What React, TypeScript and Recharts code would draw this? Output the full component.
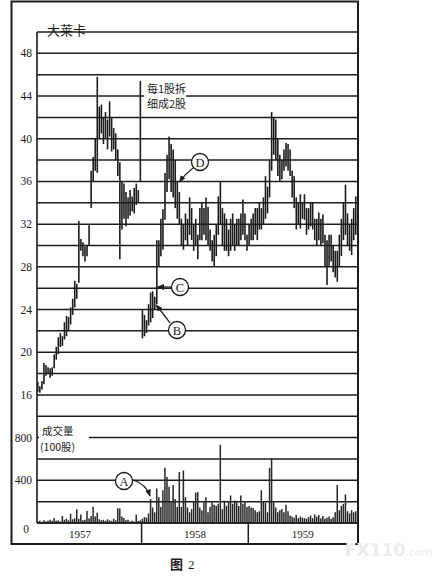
import { Bar, CartesianGrid, ComposedChart, XAxis, YAxis } from 'recharts'

// weekly high / low, 1957-1959 (split 2-for-1 at the start of 1958)
const priceLow = [
  16.3, 16.2, 16.5, 17.0, 17.8, 18.0, 17.6, 17.8, 18.5, 19.3,
  19.8, 20.5, 20.6, 21.2, 21.5, 22.0, 22.6, 23.5, 24.2, 25.0,
  26.5, 29.5, 29.0, 28.5, 29.0, 30.0, 33.5, 36.0, 37.0, 36.8,
  40.0, 40.5, 39.5, 40.0, 39.0, 40.2, 38.8, 39.0, 38.0, 36.5,
  28.7, 31.5, 32.5, 31.8, 32.5, 32.8, 33.2, 33.0, 33.8, 34.0,
  36.0, 21.3, 21.5, 21.8, 22.5, 22.8, 23.2, 24.0, 24.5, 28.0,
  29.0, 29.6, 32.4, 35.0, 36.2, 35.0, 34.5, 33.5, 32.5, 32.0,
  30.0, 29.6, 30.5, 30.0, 31.0, 30.5, 29.5, 30.0, 28.7, 30.5,
  30.5, 31.0, 30.5, 30.0, 29.5, 28.5, 28.0, 29.0, 31.0, 32.0,
  30.0, 29.5, 29.5, 29.0, 29.5, 30.0, 29.5, 30.0, 30.0, 30.5,
  31.0, 30.5, 29.5, 30.0, 30.5, 30.5, 31.0, 30.5, 31.5, 31.5,
  32.0, 32.5, 33.0, 34.5, 37.0, 38.5, 38.0, 36.5, 36.0, 36.2,
  37.0, 37.4, 37.0, 36.5, 34.5, 33.5, 31.5, 32.0, 31.6, 32.5,
  32.4, 31.0, 31.5, 31.8, 31.5, 30.5, 30.0, 30.5, 30.0, 30.2,
  28.0, 26.3, 28.0, 28.5, 27.5, 27.0, 26.6, 28.0, 29.0, 30.5,
  31.0, 30.0, 29.5, 29.1, 30.5, 31.0
]

const priceHigh = [
  17.2, 16.8, 17.3, 19.0, 18.8, 18.6, 18.5, 18.6, 19.8, 20.5,
  21.4, 21.8, 21.5, 22.8, 23.4, 23.3, 24.2, 25.0, 26.7, 26.4,
  32.3, 30.6, 30.3, 29.9, 30.0, 32.0, 37.0, 38.3, 40.0, 45.8,
  43.0, 43.2, 42.0, 42.5, 41.8, 43.5, 42.0, 41.0, 40.5, 39.0,
  37.8, 36.0, 35.8, 35.0, 34.5, 35.2, 34.6, 35.4, 35.8, 35.2,
  45.4, 24.0, 23.5, 23.0, 24.5, 25.6, 25.7, 25.2, 30.5, 30.5,
  32.5, 33.4, 36.8, 38.5, 40.2, 39.5, 39.0, 38.0, 36.0, 35.0,
  32.5, 32.0, 33.0, 32.5, 34.5, 33.5, 32.0, 32.5, 31.0, 33.5,
  34.0, 33.5, 34.5, 33.6, 31.5, 30.5, 31.0, 32.0, 34.6, 36.0,
  33.5, 33.0, 32.5, 31.5, 32.5, 33.0, 32.0, 32.5, 32.5, 33.0,
  34.3, 33.0, 31.0, 32.0, 32.5, 33.0, 33.5, 33.5, 34.0, 33.5,
  34.5, 36.5, 35.5, 38.0, 42.5, 42.0, 41.8, 40.0, 38.5, 38.0,
  39.0, 39.6, 39.5, 39.0, 37.0, 36.5, 34.5, 34.0, 34.8, 34.0,
  34.8, 33.5, 33.5, 34.0, 34.0, 32.5, 32.5, 33.1, 32.5, 32.9,
  31.0, 30.5, 31.0, 31.0, 30.0, 29.5, 29.5, 31.0, 32.5, 34.0,
  35.7, 33.0, 32.0, 32.5, 33.5, 34.6
]

// weekly volume, in 100 shares
const volume = [
  15, 20, 10, 25, 15, 20, 30, 20, 48, 20,
  25, 15, 65, 30, 40, 25, 87, 35, 45, 129,
  40, 80, 25, 30, 113, 45, 65, 152, 60, 97,
  35, 25, 30, 20, 35, 25, 20, 40, 25, 139,
  135, 60, 48, 25, 30, 15, 20, 15, 80, 20,
  25, 40, 55, 50, 90, 226, 145, 100, 323, 242,
  150, 307, 517, 430, 339, 200, 355, 226, 150, 478,
  150, 491, 242, 145, 100, 130, 200, 284, 291, 145,
  120, 194, 242, 100, 150, 194, 170, 160, 180, 733,
  130, 210, 160, 194, 258, 180, 210, 194, 160, 258,
  180, 194, 150, 160, 145, 140, 120, 100, 110, 307,
  200, 190, 100, 517, 607, 194, 145, 100, 120, 130,
  100, 170, 110, 70, 60, 50, 75, 45, 60, 50,
  45, 40, 55, 70, 45, 80, 60, 75, 45, 65,
  40, 50, 60, 40, 55, 100, 355, 120, 160, 180,
  268, 110, 90, 120, 100, 110
]

const years = ['1957', '1958', '1959']
const yearLabelWeeks = [21, 77, 129.5]
const yearBoundaryWeeks = [51, 103]

const priceGridTicks = [4, 6, 8, 10, 12, 14, 16, 18, 20, 22, 24, 26, 28, 30, 32, 34, 36, 38, 40, 42, 44, 46, 48]
const priceLabels = [16, 20, 24, 28, 32, 36, 40, 44, 48]
const volumeLabels = [0, 400, 800]

const PRICE_MIN = 4
const PRICE_MAX = 50
const VOL_MAX = 4600
const VOL_PER_PRICE = VOL_MAX / (PRICE_MAX - PRICE_MIN)

const data = priceLow.map((low, i) => ({
  t: i + 0.5,
  range: [low, priceHigh[i]],
  vol: volume[i]
}))

const ink = '#1c1c1c'
const serif = '"Liberation Serif", "DejaVu Serif", serif'
const cjk = '"Noto Sans CJK SC", "Noto Sans", sans-serif'

function PriceTick({ x, y, payload }: any) {
  const v = payload.value
  let label = ''
  if (priceLabels.includes(v)) label = String(v)
  else {
    const vol = Math.round((v - PRICE_MIN) * VOL_PER_PRICE)
    if (volumeLabels.includes(vol)) label = String(vol)
  }
  if (!label) return <g />
  const zero = label === '0'
  return (
    <text x={x - (zero ? 8 : 5)} y={y + (zero ? 10 : 4)} textAnchor="end" fontSize={11.5} fontFamily={serif} fill={ink}>
      {label}
    </text>
  )
}

function YearTick({ x, y, payload }: any) {
  const v = payload.value
  const k = yearLabelWeeks.indexOf(v)
  if (k >= 0) {
    return (
      <text x={x} y={y + 15} textAnchor="middle" fontSize={11} fontFamily={serif} fill={ink}>
        {years[k]}
      </text>
    )
  }
  return <line x1={x} x2={x} y1={y} y2={y + 21} stroke={ink} strokeWidth={1.5} />
}

function Annotations() {
  return (
    <svg width={435} height={577} style={{ position: 'absolute', left: 0, top: 0, pointerEvents: 'none' }}>
      <defs>
        <marker id="head" viewBox="0 0 10 10" refX="9" refY="5" markerWidth="6" markerHeight="6" orient="auto">
          <path d="M0,1 L10,5 L0,9 z" fill={ink} />
        </marker>
      </defs>
      <rect x={11.5} y={1.5} width={346.5} height={542.5} fill="none" stroke={ink} strokeWidth={2} />

      <text x={47} y={35} fontSize={13} fontFamily={cjk} fill={ink}>大莱卡</text>

      <rect x={144} y={80} width={42} height={31} fill="#fff" />
      <text x={147} y={93} fontSize={11} fontFamily={cjk} fill={ink}>每1股拆</text>
      <text x={147} y={108} fontSize={11} fontFamily={cjk} fill={ink}>细成2股</text>

      <rect x={39} y={422} width={50} height={31} fill="#fff" />
      <text x={42} y={435} fontSize={10.5} fontFamily={cjk} fill={ink}>成交量</text>
      <text x={40} y={451} fontSize={10.5} fontFamily={cjk} fill={ink}>(100股)</text>

      <path d="M193,168 Q185,174 179.5,182" fill="none" stroke={ink} strokeWidth={1.2} markerEnd="url(#head)" />
      <path d="M171.5,287 L157.5,287" fill="none" stroke={ink} strokeWidth={1.2} markerEnd="url(#head)" />
      <path d="M170,323 Q162,312 156,305" fill="none" stroke={ink} strokeWidth={1.2} markerEnd="url(#head)" />
      <path d="M133,480 Q146,484 150,496" fill="none" stroke={ink} strokeWidth={1.2} markerEnd="url(#head)" />

      {[
        { l: 'D', cx: 200, cy: 162 },
        { l: 'C', cx: 180, cy: 287 },
        { l: 'B', cx: 177, cy: 330 },
        { l: 'A', cx: 124, cy: 481 }
      ].map((c) => (
        <g key={c.l}>
          <circle cx={c.cx} cy={c.cy} r={8.5} fill="#fff" stroke={ink} strokeWidth={1.3} />
          <text x={c.cx} y={c.cy + 4.5} textAnchor="middle" fontSize={12.5} fontFamily={serif} fill={ink}>
            {c.l}
          </text>
        </g>
      ))}

      <text x={170} y={569} fontSize={13} fontFamily={cjk} fontWeight={700} fill={ink}>图</text>
      <text x={188} y={569} fontSize={13} fontFamily={serif} fill={ink}>2</text>

      <text x={345} y={556} fontSize={17} fontWeight={700} fontFamily='"DejaVu Sans", sans-serif' fill="#ececec">
        FX110<tspan fontSize={11} fontWeight={400}>.com</tspan>
      </text>
    </svg>
  )
}

export default function App() {
  return (
    <div style={{ position: 'absolute', left: 0, top: 0, width: 435, height: 577, background: '#fff' }}>
      <ComposedChart width={435} height={577} data={data} margin={{ top: 32, right: 78, bottom: 33, left: 7 }}>
        <CartesianGrid xAxisId="p" yAxisId="price" vertical={false} stroke={ink} strokeWidth={1.5} />
        <XAxis
          xAxisId="p"
          dataKey="t"
          type="number"
          domain={[0, 156]}
          ticks={[...yearLabelWeeks, ...yearBoundaryWeeks].sort((a, b) => a - b)}
          interval={0}
          height={21}
          tickSize={0}
          tickMargin={0}
          tickLine={false}
          axisLine={{ stroke: ink, strokeWidth: 1.5 }}
          tick={<YearTick />}
        />
        <XAxis xAxisId="v" dataKey="t" type="number" domain={[0, 156]} hide />
        <YAxis
          yAxisId="price"
          domain={[PRICE_MIN, PRICE_MAX]}
          ticks={priceGridTicks}
          interval={0}
          width={30}
          tickSize={0}
          tickMargin={0}
          tickLine={false}
          allowDataOverflow
          axisLine={{ stroke: ink, strokeWidth: 1.6 }}
          tick={<PriceTick />}
        />
        <YAxis yAxisId="vol" domain={[0, VOL_MAX]} hide allowDataOverflow />
        <Bar xAxisId="v" yAxisId="vol" dataKey="vol" barSize={1.5} fill="#262626" isAnimationActive={false} />
        <Bar xAxisId="p" yAxisId="price" dataKey="range" barSize={1.6} fill={ink} isAnimationActive={false} />
      </ComposedChart>
      <Annotations />
    </div>
  )
}
